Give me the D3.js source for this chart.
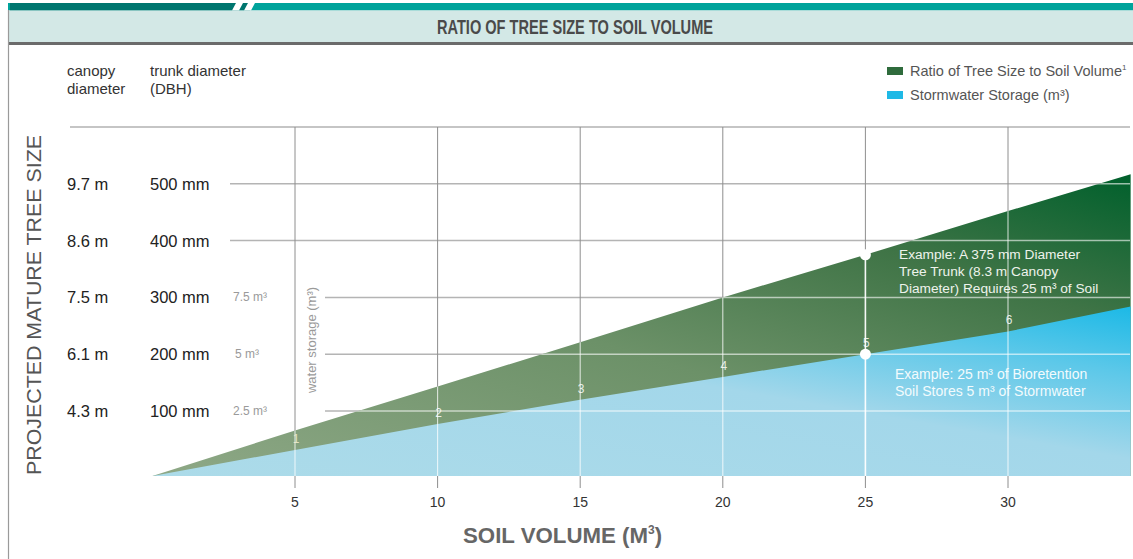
<!DOCTYPE html>
<html>
<head>
<meta charset="utf-8">
<script src="https://cdn.jsdelivr.net/npm/d3@7"></script>
<style>
  html, body { margin: 0; padding: 0; background: #fff; }
  svg { display: block; }
  .narrow { font-family: 'Liberation Sans', Arial, Helvetica, sans-serif; }
  .sans { font-family: 'Liberation Sans', Arial, Helvetica, sans-serif; }
</style>
</head>
<body>
<svg id="chart" width="1133" height="559"></svg>
<script>
// ---------- DATA ----------
const title = "RATIO OF TREE SIZE TO SOIL VOLUME";
const soilVolume = [0, 5, 10, 15, 20, 25, 30, 34.3];          // m³
const treeSize   = [0, 70, 143, 221, 300, 375, 452, 517];      // trunk diameter, mm
const stormwater = [0, 1, 2, 3, 4, 5, 6, 7.1];                 // m³ stored
const xTicks = [5, 10, 15, 20, 25, 30];
const trunkTicks = [100, 200, 300, 400, 500];
const canopyLabels = ["4.3 m", "6.1 m", "7.5 m", "8.6 m", "9.7 m"];
const trunkLabels = ["100 mm", "200 mm", "300 mm", "400 mm", "500 mm"];
const storageTicks = [2.5, 5, 7.5];
const storageLabels = ["2.5 m³", "5 m³", "7.5 m³"];
const storageMarkSoil = [5, 10, 15, 20, 25, 30];
const storageMarkText = ["1", "2", "3", "4", "5", "6"];
const legendItems = [
  { label: "Ratio of Tree Size to Soil Volume", sup: "1", color: "#2f6b3c" },
  { label: "Stormwater Storage (m³)", sup: "", color: "#1fb9e6" }
];
const exampleTree = { soil: 25, size: 375, lines: ["Example: A 375 mm Diameter", "Tree Trunk (8.3 m Canopy", "Diameter) Requires 25 m³ of Soil"] };
const exampleStorm = { soil: 25, storage: 5, lines: ["Example: 25 m³ of Bioretention", "Soil Stores 5 m³ of Stormwater"] };
const storageToTrunk = 40; // 2.5 m³ sits on the 100 mm line

// ---------- SCALES ----------
const svg = d3.select("#chart");
const x = d3.scaleLinear().domain([0, 30]).range([152.4, 1008]);
const y = d3.scaleLinear().domain([0, 100, 600]).range([476, 411, 127]);
const yBase = y(0);
const plotRight = 1130;

// ---------- HEADER ----------
svg.append("rect").attr("x", 8).attr("y", 3).attr("width", 1125).attr("height", 7.5).attr("fill", "#00a39b");
svg.append("rect").attr("x", 10).attr("y", 3).attr("width", 240).attr("height", 7.5).attr("fill", "#00766f");
[[233, 240], [245, 252]].forEach(([a, b]) => {
  svg.append("path")
    .attr("d", `M${a + 3},3 L${b + 3},3 L${b - 1},10.5 L${a - 1},10.5 Z`)
    .attr("fill", "#fff");
});
svg.append("rect").attr("x", 8).attr("y", 10.5).attr("width", 1125).attr("height", 31.5).attr("fill", "#d3e8e6");
svg.append("rect").attr("x", 8).attr("y", 42).attr("width", 1125).attr("height", 3).attr("fill", "#6b6b6b");
svg.append("line").attr("x1", 8.5).attr("x2", 8.5).attr("y1", 10).attr("y2", 559).attr("stroke", "#9a9a9a").attr("stroke-width", 1.2);
svg.append("text").attr("class", "narrow").attr("x", 437).attr("y", 34)
  .attr("font-size", 20).attr("font-weight", "bold")
  .attr("textLength", 276).attr("lengthAdjust", "spacingAndGlyphs")
  .attr("fill", "#4a4a4a").text(title);

// ---------- GRID (gray) ----------
const grid = svg.append("g");
grid.append("line").attr("x1", 70).attr("x2", plotRight).attr("y1", y(600)).attr("y2", y(600))
  .attr("stroke", "#8c8c8c").attr("stroke-width", 1.2);
trunkTicks.forEach(t => {
  const x0 = t >= 400 ? 230 : 325;
  grid.append("line").attr("x1", x0).attr("x2", plotRight).attr("y1", y(t)).attr("y2", y(t))
    .attr("stroke", "#b4b4b4").attr("stroke-width", 1.5);
});
xTicks.forEach(v => {
  grid.append("line").attr("x1", x(v)).attr("x2", x(v)).attr("y1", y(600)).attr("y2", 488)
    .attr("stroke", "#8e8e8e").attr("stroke-width", 1);
});

// ---------- AREAS ----------
const defs = svg.append("defs");
const gG = defs.append("linearGradient").attr("id", "gGreen").attr("x1", 0).attr("y1", 1).attr("x2", 1).attr("y2", 0);
gG.append("stop").attr("offset", "0%").attr("stop-color", "#8ea886");
gG.append("stop").attr("offset", "45%").attr("stop-color", "#6c9168");
gG.append("stop").attr("offset", "75%").attr("stop-color", "#3f7446");
gG.append("stop").attr("offset", "100%").attr("stop-color", "#00602c");
const gB = defs.append("linearGradient").attr("id", "gBlue").attr("x1", 0).attr("y1", 1).attr("x2", 1).attr("y2", 0);
gB.append("stop").attr("offset", "0%").attr("stop-color", "#acdbe9");
gB.append("stop").attr("offset", "55%").attr("stop-color", "#a3d7ea");
gB.append("stop").attr("offset", "80%").attr("stop-color", "#5cc8e9");
gB.append("stop").attr("offset", "100%").attr("stop-color", "#1cb9e6");

const treeData = soilVolume.map((s, i) => ({ s, v: treeSize[i] }));
const stormData = soilVolume.map((s, i) => ({ s, v: stormwater[i] * storageToTrunk }));
const area = d3.area().x(d => x(d.s)).y0(yBase).y1(d => y(d.v));

svg.append("path").datum(treeData).attr("d", area).attr("fill", "url(#gGreen)");
svg.append("path").datum(stormData).attr("d", area).attr("fill", "url(#gBlue)");

defs.append("clipPath").attr("id", "clipArea").append("path").datum(treeData).attr("d", area);

// ---------- GRID (white inside fills) ----------
const wgrid = svg.append("g").attr("clip-path", "url(#clipArea)");
trunkTicks.forEach(t => {
  wgrid.append("line").attr("x1", 325).attr("x2", plotRight).attr("y1", y(t)).attr("y2", y(t))
    .attr("stroke", "#ffffff").attr("stroke-opacity", 0.6).attr("stroke-width", 1.5);
});
xTicks.forEach(v => {
  wgrid.append("line").attr("x1", x(v)).attr("x2", x(v)).attr("y1", y(600)).attr("y2", yBase)
    .attr("stroke", "#ffffff").attr("stroke-opacity", v === 25 ? 0.95 : 0.75).attr("stroke-width", v === 25 ? 1.6 : 1.1);
});

// storage marks along the blue line
storageMarkSoil.forEach((s, i) => {
  const v = stormwater[soilVolume.indexOf(s)] * storageToTrunk;
  svg.append("text").attr("class", "sans").attr("x", x(s) + 1).attr("y", y(v) - 7)
    .attr("text-anchor", "middle").attr("font-size", 12)
    .attr("fill", i === 0 ? "#f4f0d0" : "#ffffff").attr("fill-opacity", 0.85)
    .text(storageMarkText[i]);
});

// ---------- EXAMPLES ----------
svg.append("circle").attr("cx", x(exampleTree.soil)).attr("cy", y(exampleTree.size)).attr("r", 5.5).attr("fill", "#fff");
svg.append("circle").attr("cx", x(exampleStorm.soil)).attr("cy", y(exampleStorm.storage * storageToTrunk)).attr("r", 5.5).attr("fill", "#fff");
exampleTree.lines.forEach((l, i) => {
  svg.append("text").attr("class", "sans").attr("x", 899).attr("y", 259 + i * 17)
    .attr("font-size", 13.7).attr("fill", "#eef3ec").text(l);
});
exampleStorm.lines.forEach((l, i) => {
  svg.append("text").attr("class", "sans").attr("x", 895).attr("y", 379 + i * 17)
    .attr("font-size", 14).attr("fill", "#f3fbfd").text(l);
});

// ---------- LEFT LABELS ----------
const left = svg.append("g").attr("class", "sans");
left.append("text").attr("x", 67).attr("y", 76).attr("font-size", 15).attr("fill", "#333").text("canopy");
left.append("text").attr("x", 67).attr("y", 94).attr("font-size", 15).attr("fill", "#333").text("diameter");
left.append("text").attr("x", 150).attr("y", 76).attr("font-size", 15).attr("fill", "#333").text("trunk diameter");
left.append("text").attr("x", 150).attr("y", 94).attr("font-size", 15).attr("fill", "#333").text("(DBH)");
trunkTicks.forEach((t, i) => {
  left.append("text").attr("x", 67).attr("y", y(t) + 6).attr("font-size", 16.5).attr("fill", "#222").text(canopyLabels[i]);
  left.append("text").attr("x", 150).attr("y", y(t) + 6).attr("font-size", 16.5).attr("fill", "#222").text(trunkLabels[i]);
});
storageTicks.forEach((s, i) => {
  left.append("text").attr("x", s === 5 ? 235 : 233).attr("y", y(s * storageToTrunk) + 4)
    .attr("font-size", 12).attr("fill", "#9a9a9a").text(storageLabels[i]);
});
left.append("text").attr("transform", `translate(316,340) rotate(-90)`).attr("text-anchor", "middle")
  .attr("font-size", 13).attr("fill", "#9a9a9a").text("water storage (m³)");
left.append("text").attr("transform", `translate(41,475) rotate(-90)`)
  .attr("font-size", 20.5).attr("fill", "#555")
  .attr("textLength", 340).attr("lengthAdjust", "spacingAndGlyphs").text("PROJECTED MATURE TREE SIZE");

// ---------- X AXIS LABELS ----------
xTicks.forEach(v => {
  svg.append("text").attr("class", "narrow").attr("x", x(v)).attr("y", 507).attr("text-anchor", "middle")
    .attr("font-size", 14).attr("fill", "#333").text(v);
});
const xt = svg.append("text").attr("class", "narrow").attr("x", 463).attr("y", 543)
  .attr("font-size", 22).attr("font-weight", "bold").attr("fill", "#666");
xt.append("tspan").attr("textLength", 185).attr("lengthAdjust", "spacingAndGlyphs").text("SOIL VOLUME (M");
xt.append("tspan").attr("font-size", 12).attr("dy", -9).text("3");
xt.append("tspan").attr("dy", 9).text(")");

// ---------- LEGEND ----------
legendItems.forEach((d, i) => {
  const ly = 71 + i * 24;
  svg.append("rect").attr("x", 887).attr("y", ly - 4).attr("width", 16).attr("height", 8).attr("fill", d.color);
  const t = svg.append("text").attr("class", "sans").attr("x", 910).attr("y", ly + 5)
    .attr("font-size", 14.5).attr("fill", "#555");
  t.append("tspan").text(d.label);
  if (d.sup) t.append("tspan").attr("font-size", 8).attr("dy", -6).text(d.sup);
});
</script>
</body>
</html>
